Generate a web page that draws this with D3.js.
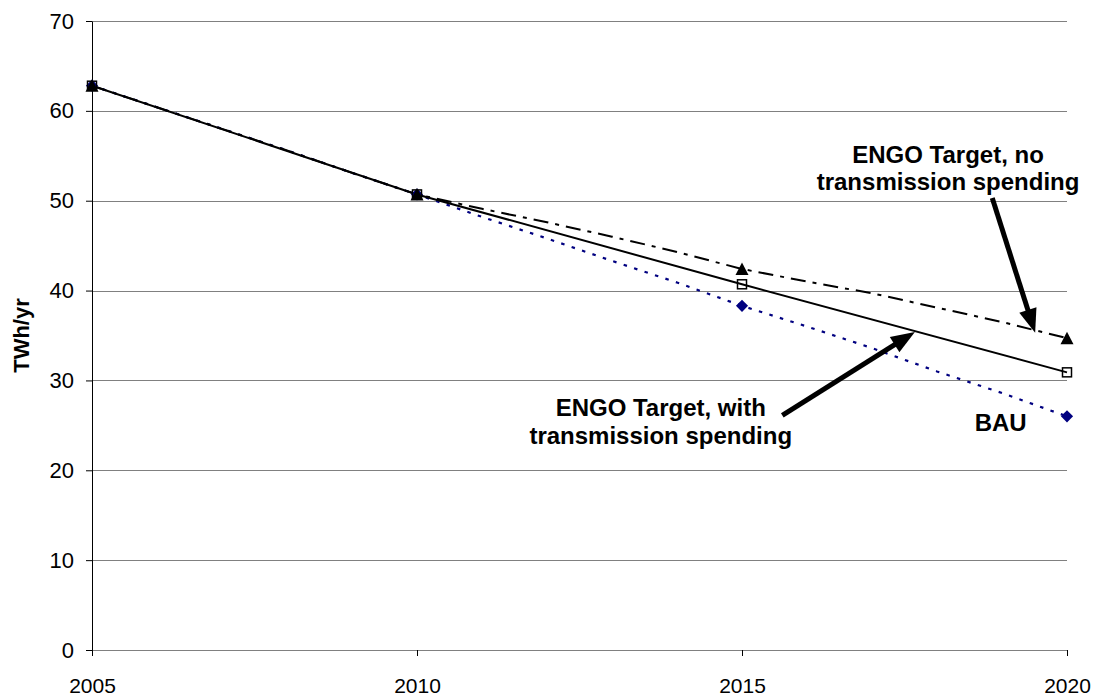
<!DOCTYPE html>
<meta charset="utf-8">
<style>
body { margin: 0; background: #fff; }
svg { font-family: Arial, "Liberation Sans", sans-serif; }
.grid line { stroke: #808080; stroke-width: 1; shape-rendering: crispEdges; }
.note { font-size: 24px; font-weight: bold; text-anchor: middle; fill: #000; }
</style>
<svg width="1098" height="700"></svg>
<script src="https://cdn.jsdelivr.net/npm/d3@7"></script>
<script>
// yearly values
var years = [2005, 2006, 2007, 2008, 2009, 2010, 2011, 2012, 2013, 2014, 2015, 2016, 2017, 2018, 2019, 2020];
var bau = [62.8, 60.4, 58.0, 55.6, 53.1, 50.7, 48.2, 45.8, 43.3, 40.9, 38.3, 36.0, 33.6, 31.0, 28.6, 26.0];
var noTransmission = [62.8, 60.4, 58.0, 55.6, 53.1, 50.7, 49.1, 47.6, 46.0, 44.3, 42.4, 41.0, 39.7, 38.1, 36.5, 34.7];
// five-year values
var markerYears = [2005, 2010, 2015, 2020];
var withTransmission = [62.8, 50.7, 40.7, 30.9];
var yTicks = [0, 10, 20, 30, 40, 50, 60, 70];

var svg = d3.select("svg"),
    margin = {top: 21, right: 31, bottom: 50, left: 92},
    width = svg.attr("width") - margin.left - margin.right,
    height = svg.attr("height") - margin.top - margin.bottom,
    g = svg.append("g").attr("transform", "translate(" + margin.left + "," + margin.top + ")");

var x = d3.scaleLinear().domain([2005, 2020]).range([0, width]),
    y = d3.scaleLinear().domain([0, 70]).range([height, 0]);

// gridlines
g.append("g")
    .attr("class", "grid")
    .selectAll("line")
    .data(yTicks)
    .enter().append("line")
      .attr("x1", 0)
      .attr("x2", width)
      .attr("y1", function(d) { return Math.round(y(d)) + 0.5; })
      .attr("y2", function(d) { return Math.round(y(d)) + 0.5; });

// y axis
var yAxis = g.append("g")
    .call(d3.axisLeft(y).tickValues(yTicks).tickSize(6).tickPadding(12).tickSizeOuter(0));
yAxis.select(".domain").attr("stroke", "#000");
yAxis.selectAll("text").style("font-size", "22px").attr("fill", "#000");

// x axis
var xAxis = g.append("g")
    .attr("transform", "translate(0," + height + ")")
    .call(d3.axisBottom(x).tickValues(markerYears).tickFormat(d3.format("d")).tickSize(6).tickPadding(22).tickSizeOuter(0));
xAxis.select(".domain").attr("stroke", "#808080");
xAxis.selectAll("text").style("font-size", "21px").attr("fill", "#000");

// axis title
svg.append("text")
    .attr("transform", "translate(29," + (margin.top + height / 2) + ") rotate(-90)")
    .attr("text-anchor", "middle")
    .style("font-size", "22px")
    .style("font-weight", "bold")
    .text("TWh/yr");

var line = d3.line()
    .x(function(d) { return x(d[0]); })
    .y(function(d) { return y(d[1]); });

// BAU dotted navy
g.append("path")
    .datum(d3.zip(years, bau))
    .attr("d", line)
    .attr("fill", "none")
    .attr("stroke", "#000080")
    .attr("stroke-width", 2.2)
    .attr("stroke-dasharray", "3.5,7.5");

// no transmission spending: dash-dot black
g.append("path")
    .datum(d3.zip(years, noTransmission))
    .attr("d", line)
    .attr("fill", "none")
    .attr("stroke", "#000")
    .attr("stroke-width", 2)
    .attr("stroke-dasharray", "15,7,4,7");

// with transmission spending: solid black
g.append("path")
    .datum(d3.zip(markerYears, withTransmission))
    .attr("d", line)
    .attr("fill", "none")
    .attr("stroke", "#000")
    .attr("stroke-width", 2);

// markers
var bauMarks = markerYears.map(function(yr) { return [yr, bau[years.indexOf(yr)]]; });
var noTxMarks = markerYears.map(function(yr) { return [yr, noTransmission[years.indexOf(yr)]]; });

g.selectAll(".diamond")
    .data(bauMarks)
    .enter().append("rect")
      .attr("class", "diamond")
      .attr("x", -4.3).attr("y", -4.3)
      .attr("width", 8.6).attr("height", 8.6)
      .attr("fill", "#000080")
      .attr("transform", function(d) { return "translate(" + x(d[0]) + "," + y(d[1]) + ") rotate(45)"; });

g.selectAll(".tri")
    .data(noTxMarks)
    .enter().append("path")
      .attr("class", "tri")
      .attr("d", "M0,-6.5L6.5,6L-6.5,6Z")
      .attr("fill", "#000")
      .attr("transform", function(d) { return "translate(" + x(d[0]) + "," + y(d[1]) + ")"; });

g.selectAll(".sq")
    .data(d3.zip(markerYears, withTransmission))
    .enter().append("rect")
      .attr("class", "sq")
      .attr("x", function(d) { return x(d[0]) - 4.5; })
      .attr("y", function(d) { return y(d[1]) - 4.5; })
      .attr("width", 9).attr("height", 9)
      .attr("fill", "none")
      .attr("stroke", "#000")
      .attr("stroke-width", 1.5);

// annotations (positioned in data units)
var notes = [
  {lines: ["ENGO Target, no", "transmission spending"], at: [2018.17, 54.2], lead: 27},
  {lines: ["ENGO Target, with", "transmission spending"], at: [2013.75, 26.0], lead: 28},
  {lines: ["BAU"], at: [2018.98, 24.35], lead: 0}
];
notes.forEach(function(n) {
  var t = g.append("text").attr("class", "note")
      .attr("x", x(n.at[0])).attr("y", y(n.at[1]));
  n.lines.forEach(function(s, i) {
    t.append("tspan").attr("x", x(n.at[0])).attr("dy", i ? n.lead : 0).text(s);
  });
});

var arrows = [
  {from: [2018.85, 50.3], to: [2019.51, 35.3]},
  {from: [2015.62, 26.1], to: [2017.66, 35.4]}
];
arrows.forEach(function(a) {
  var x0 = x(a.from[0]), y0 = y(a.from[1]), x1 = x(a.to[0]), y1 = y(a.to[1]);
  var dx = x1 - x0, dy = y1 - y0, len = Math.sqrt(dx * dx + dy * dy);
  var ux = dx / len, uy = dy / len, head = 24, half = 9;
  var bx = x1 - ux * head, by = y1 - uy * head;
  g.append("line")
      .attr("x1", x0).attr("y1", y0)
      .attr("x2", bx + ux * 2).attr("y2", by + uy * 2)
      .attr("stroke", "#000")
      .attr("stroke-width", 5);
  g.append("path")
      .attr("d", "M" + x1 + "," + y1 +
        "L" + (bx - uy * half) + "," + (by + ux * half) +
        "L" + (bx + uy * half) + "," + (by - ux * half) + "Z")
      .attr("fill", "#000");
});
</script>
